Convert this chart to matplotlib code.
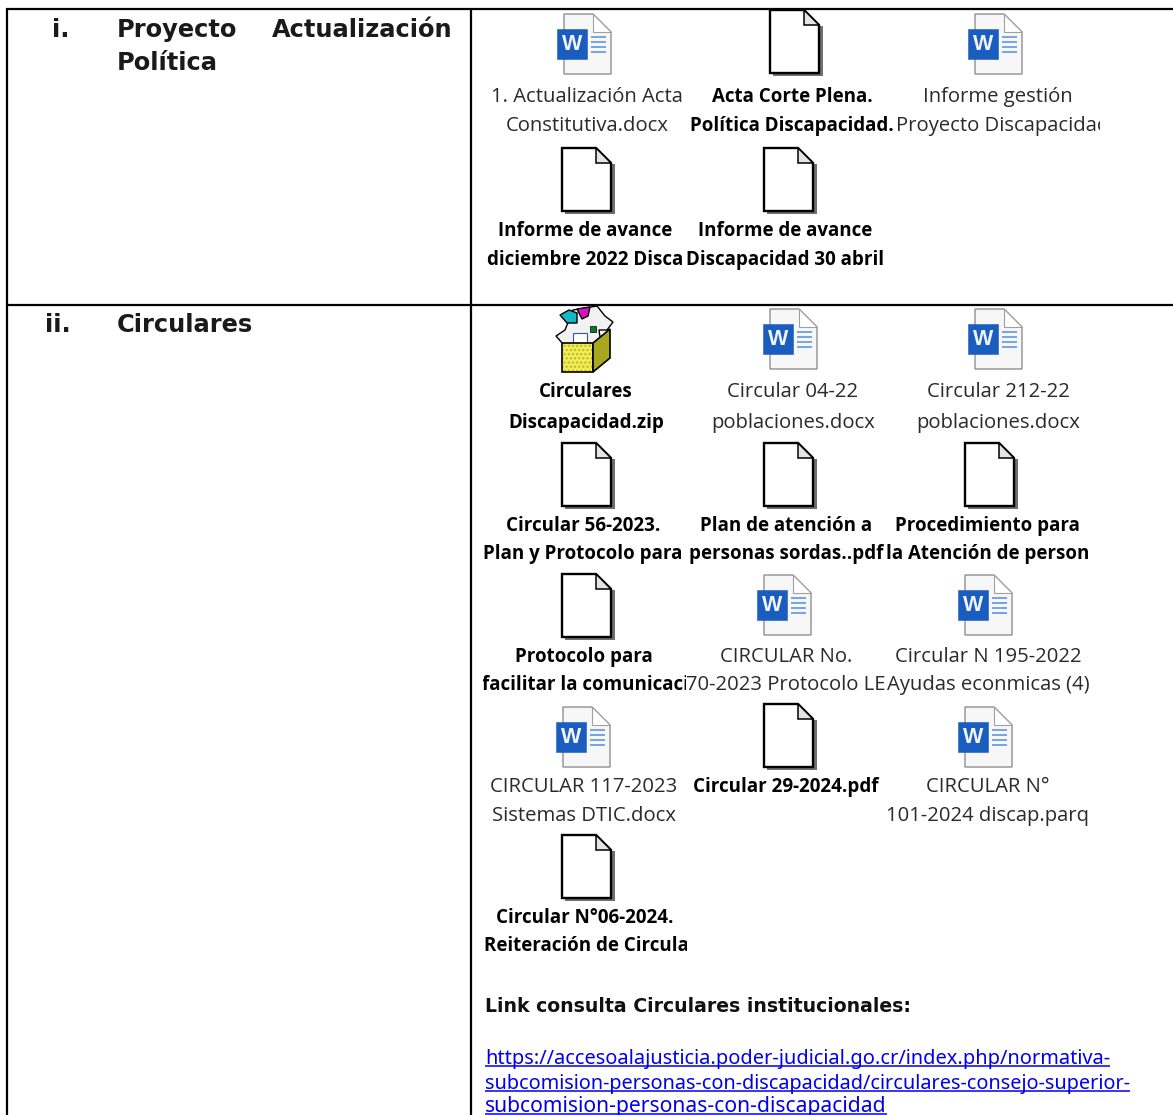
import matplotlib
matplotlib.use("Agg")
import matplotlib.pyplot as plt
from matplotlib.patches import Polygon, Rectangle

W, H = 1173, 1115
# content
kinds = ["word","plain","word","plain","plain",
         "zip","word","word","plain","plain","plain",
         "plain","word","word","word","plain","word","plain"]
line1 = ["1. Actualización Acta","Acta Corte Plena.","Informe gestión","Informe de avance","Informe de avance",
         "Circulares","Circular 04-22","Circular 212-22","Circular 56-2023.","Plan de atención a","Procedimiento para",
         "Protocolo para","CIRCULAR No.","Circular N 195-2022","CIRCULAR 117-2023","Circular 29-2024.pdf","CIRCULAR N°","Circular N°06-2024."]
line2 = ["Constitutiva.docx","Política Discapacidad.|","Proyecto Discapacidac","diciembre 2022 Disca","Discapacidad 30 abril",
         "Discapacidad.zip","poblaciones.docx","poblaciones.docx","Plan y Protocolo para","personas sordas..pdf","la Atención de person",
         "facilitar la comunicaci","70-2023 Protocolo LE","Ayudas econmicas (4)","Sistemas DTIC.docx","","101-2024 discap.parq","Reiteración de Circula"]
# layout
icon_x = [557,770,968,562,764, 555,763,968,562,764,965, 562,757,958,556,764,958,562]
icon_y = [14,10,14,148,148, 306,309,309,443,443,443, 574,575,575,707,704,707,835]
text_x = [587,792,998,585,785, 586,793,998,583,786,987, 584,786,988,584,786,988,585]
text_y1 = [97,97,97,231,231, 392,392,392,526,526,526, 657,657,657,787,787,787,918]
text_y2 = [126,126,126,260,260, 423,423,423,554,554,554, 685,685,685,816,816,816,946]
CELL = 203

fig = plt.figure(figsize=(W/100, H/100), dpi=100, facecolor="white")
ax = fig.add_axes([0, 0, 1, 1])
ax.set_xlim(0, W); ax.set_ylim(H, 0); ax.axis("off")
renderer = fig.canvas.get_renderer()

def poly(pts, x, y, **kw):
    ax.add_patch(Polygon([(x+a, y+b) for a, b in pts], closed=True, **kw))

def word(x, y):
    poly([(7,0),(36,0),(54,18),(54,60),(7,60)], x, y, fc="#f7f7f7", ec="#8f8f8f", lw=1.0)
    poly([(36,0),(36,18),(54,18)], x, y, fc="#ffffff", ec="#a0a0a0", lw=0.8)
    ax.add_patch(Rectangle((x, y+15), 30, 30, fc="#1b5dbe", ec="#1b5dbe", lw=0.4))
    ax.text(x+15, y+30.5, "W", color="#f0f4fb", ha="center", va="center",
            family="Liberation Sans", weight="bold", fontsize=15.5)
    for dy in (23, 28, 33, 38):
        ax.plot([x+34, x+49], [y+dy, y+dy], color="#4f8ee0", lw=1.1, solid_capstyle="butt")

def plain(x, y):
    poly([(49,16),(53,16),(53,66),(3,66),(3,63),(49,63)], x, y, fc="#707070", ec="none")
    poly([(0,0),(34,0),(49,15),(49,63),(0,63)], x, y, fc="white", ec="black", lw=1.7)
    poly([(34,0),(34,15),(49,15)], x, y, fc="#e4e4e4", ec="black", lw=1.1)

def zipicon(x, y):
    poly([(18,4),(42,0),(50,10),(58,16),(52,24),(44,24),(46,38),(8,38),(1,30),(10,24)], x, y, fc="#f2f2f2", ec="black", lw=1)
    poly([(5,9),(14,4),(22,7),(22,17),(12,17)], x, y, fc="#12b8c4", ec="black", lw=1)
    poly([(22,3),(35,1),(33,10),(27,13)], x, y, fc="#e010c0", ec="black", lw=1)
    ax.add_patch(Rectangle((x+18, y+27), 14, 10, fc="white", ec="#3050c0", lw=0.8))
    ax.add_patch(Rectangle((x+35, y+20), 6, 6, fc="#0a7a2a", ec="black", lw=0.5))
    poly([(7,37),(38,37),(38,66),(7,66)], x, y, fc="#f2ee50", ec="#b8b440", lw=0, hatch="....")
    poly([(7,37),(38,37),(38,66),(7,66)], x, y, fc="none", ec="black", lw=1.2)
    poly([(38,37),(55,23),(55,52),(38,66)], x, y, fc="#a8a820", ec="black", lw=1.2)

drawers = {"word": word, "plain": plain, "zip": zipicon}

# grid lines
lw = 1.6
ax.plot([6, W], [8.5, 8.5], color="black", lw=lw, solid_capstyle="butt")
ax.plot([6, W], [305, 305], color="black", lw=lw, solid_capstyle="butt")
ax.plot([7, 7], [8, H], color="black", lw=lw, solid_capstyle="butt")
ax.plot([471, 471], [8, H], color="black", lw=lw, solid_capstyle="butt")

# left column
hd = dict(family="DejaVu Sans", weight="bold", fontsize=17.4, color="#1a1a1a", va="baseline", ha="left")
ax.text(52, 37, "i.", **hd)
ax.text(117, 37, "Proyecto", **hd)
ax.text(272, 37, "Actualización", **hd)
ax.text(117, 70, "Política", **hd)
ax.text(45, 332, "ii.", **hd)
ax.text(117, 332, "Circulares", **hd)

def label(s, tx, y, st):
    # labels are cut off at the width of their cell, as in the document
    t = ax.text(tx, y, s, ha="center", va="center", **st)
    if t.get_window_extent(renderer).width > CELL:
        t.set_ha("left")
        t.set_x(tx - CELL/2)
    t.set_clip_path(Rectangle((tx - CELL/2, y - 20), CELL, 40, transform=ax.transData))
    t.set_clip_on(True)

# icons and their labels
for k, ix, iy, tx, y1, y2, a, b in zip(kinds, icon_x, icon_y, text_x, text_y1, text_y2, line1, line2):
    drawers[k](ix, iy)
    if k == "word":
        st = dict(family="Open Sans", fontsize=14.6, color="#2a2a2a")
    else:
        st = dict(family="Open Sans", weight="bold", fontsize=13.5, color="black")
    label(a, tx, y1, st)
    if b:
        label(b, tx, y2, st)

# link block
ax.text(485, 1012, "Link consulta Circulares institucionales:", family="DejaVu Sans",
        weight="bold", fontsize=13.6, color="#111111", va="baseline", ha="left")
url = ["https://accesoalajusticia.poder-judicial.go.cr/index.php/normativa-",
       "subcomision-personas-con-discapacidad/circulares-consejo-superior-",
       "subcomision-personas-con-discapacidad"]
url_size = [14.4, 14.3, 15.2]
for yy, s, fs in zip((1064, 1089, 1112), url, url_size):
    t = ax.text(485, yy, s, family="Noto Sans", fontsize=fs, color="#0000ee", va="baseline", ha="left")
    r = t.get_window_extent(renderer)
    ax.plot([485, 485 + r.width], [yy+2.2, yy+2.2], color="#0000ee", lw=1.1, solid_capstyle="butt")

fig.savefig("out.png", dpi=100, facecolor="white")
